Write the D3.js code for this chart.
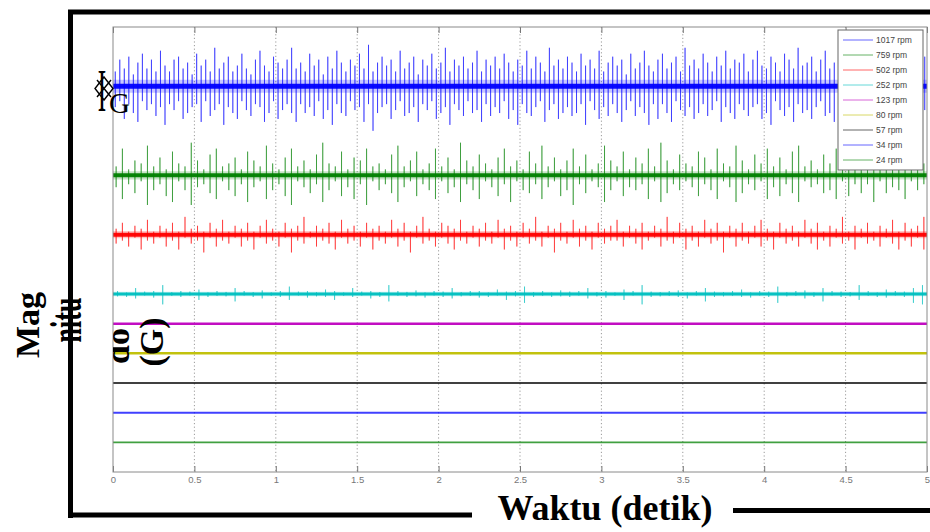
<!DOCTYPE html>
<html><head><meta charset="utf-8">
<script src="https://cdn.jsdelivr.net/npm/d3@7"></script>
<style>body{margin:0;background:#fff}svg{display:block}</style>
</head><body>
<svg id="c" width="930" height="532"></svg>
<script>
// ---------- data ----------
const seriesNames   = ["1017 rpm","759 rpm","502 rpm","252 rpm","123 rpm","80 rpm","57 rpm","34 rpm","24 rpm"];
const seriesColors  = ["#0000ff","#008000","#ff0000","#00bfbf","#bf00bf","#bfbf00","#000000","#0000ff","#008000"];
const seriesOffsets = [13,10,8,6,5,4,3,2,1];           // vertical stacking offset (G)
const seriesNoise   = [0.085,0.067,0.067,0.05,0.042,0.042,0.034,0.034,0.027]; // half-width of dense noise core (G)
const seriesHalo    = [0.22,0.14,0.12,0.08,0,0,0,0,0];  // half-width of the fuzzy small-spike band (G)
const xTicks      = [0,0.5,1,1.5,2,2.5,3,3.5,4,4.5,5];
const xTickLabels = ["0","0.5","1","1.5","2","2.5","3","3.5","4","4.5","5"];

// spike peak amplitudes (G), positive / negative excursions, evenly sampled over 0..5 s
const up1017 = [.5,.9,.6,1.0,.4,.8,1.1,.6,.9,.5,1.2,.7,.5,.9,1.0,.6,.8,.4,1.1,.7,
.9,.5,1.3,.6,.8,1.0,.5,.7,1.1,.6,.4,.9,1.2,.7,.5,1.0,.8,.6,.9,1.3,
.6,.8,.5,1.1,.7,.9,.4,1.0,.6,1.2,.8,.5,.9,.7,1.1,.6,1.4,.5,.8,1.0,
.7,.9,.5,1.2,.6,.8,1.0,.4,.9,.7,1.1,.6,.8,1.3,.5,.9,.7,1.0,.6,.8,
1.2,.5,.9,.7,1.0,.6,1.1,.8,.5,.9,.7,1.2,.6,1.0,.8,.5,1.3,.7,.9,.6,
1.0,.8,.5,1.1,.7,.9,.6,1.2,.5,.8,1.0,.7,.9,.4,1.1,.6,.8,1.2,.7,.5,
.9,1.1,.6,.8,1.0,.5,1.3,.7,.9,.6,1.1,.8,.5,1.0,.7,1.2,.6,.9,.8,1.1,
.5,.9,1.2,.7,.6,1.0,.8,.5,1.1,.9,.6,1.3,.7,.8,1.0,.5,.9,1.2,.6,.8,
1.0,.7,.5,1.1,.9,.6,1.2,.8,.7,1.0,.5,.9,1.1,.6,.8,1.3,.7,.9,.6,1.0];
const down1017 = [.7,.5,1.1,.6,.9,1.2,.5,.8,.6,1.0,.7,1.3,.6,.8,.5,1.1,.9,.7,.6,1.2,
.5,1.0,.8,.6,1.3,.7,.9,1.1,.5,.8,1.0,.6,.7,1.2,.9,.5,1.1,.8,.6,.9,
1.2,.6,.9,.7,1.0,.5,1.1,.8,1.3,.6,.9,1.0,.5,.8,.7,1.2,.6,1.5,.9,.7,
.6,1.1,.8,.5,1.0,.9,.7,1.2,.6,.8,.5,1.1,.9,.7,1.3,.6,.8,1.0,.5,.9,
.8,1.2,.6,1.0,.7,.9,.5,1.1,.8,1.3,.6,.9,1.0,.7,.5,1.2,.8,.6,1.1,.9,
.7,1.0,.9,.6,1.3,.5,.8,1.1,.7,1.0,.6,.9,1.2,.8,.5,1.0,.7,.9,1.3,.6,
1.1,.6,.9,1.2,.5,.8,1.0,.7,1.1,.9,.6,1.0,.8,.5,1.2,.7,.9,1.1,.6,.8,
1.0,.7,.6,1.1,.9,1.3,.5,.8,1.0,.7,1.2,.6,.9,.8,1.1,.7,.5,1.0,.9,1.2,
.6,.9,1.1,.7,.8,1.0,.5,1.2,.9,.6,1.0,.8,.7,1.1,.6,.9,1.0,.7,1.2,.8];

const up759 = [.3,.9,.2,.5,.4,1.0,.3,.6,.2,.8,.4,.3,1.1,.5,.2,.7,.9,.3,.4,.6,
.2,.8,.5,.3,1.0,.4,.2,.6,.9,.3,.5,.2,.7,1.1,.4,.3,.8,.2,.6,.5,
.9,.3,.4,.2,.7,1.0,.3,.5,.8,.2,.4,.9,.3,.6,.2,1.1,.5,.3,.7,.4,
.2,.6,.9,.3,.5,.2,.8,.4,1.0,.3,.6,.2,.5,.9,.3,.7,.2,.4,1.0,.5,
.3,.8,.2,.6,.4,.9,.3,1.1,.5,.2,.7,.4,.3,.8,.6,.2,.9,.4,.3,1.0,
.5,.2,.7,.4,.9,.3,.6,.2,.8,1.0,.3,.5,.2,.7,.4,.9,.3,.6,.2,.8,
.4,1.0,.3,.5,.2,.7,.9,.3,.6,.4];
const down759 = [.4,.8,.3,.6,.2,1.0,.5,.3,.7,.9,.2,.5,1.0,.4,.3,.6,.8,.2,.5,.7,
.3,.9,.4,.2,.8,.5,.3,.7,1.0,.2,.4,.6,.3,.9,.5,.2,.7,.4,.8,.3,
1.0,.2,.5,.3,.6,.9,.4,.2,.7,.3,.5,.8,.2,.6,.4,.9,.3,.5,.8,.2,
.4,.7,.3,.9,.2,.5,.6,.3,.8,.4,.2,.7,.5,1.0,.3,.6,.2,.4,.9,.5,
.2,.7,.4,.5,.3,.8,.2,.9,.6,.3,.5,.2,.4,.7,.3,.5,.8,.2,.4,.9,
.6,.3,.5,.2,.8,.4,.7,.3,.6,.9,.2,.4,.3,.6,.5,.8,.2,.7,.3,.6,
.3,.9,.2,.6,.4,.5,.8,.2,.5,.3];

const up502 = [.2,.4,.1,.3,.2,.5,.1,.3,.2,.4,.1,.6,.2,.3,.1,.4,.2,.5,.1,.3,
.2,.4,.1,.3,.5,.2,.1,.4,.2,.3,.6,.1,.3,.2,.4,.1,.5,.2,.3,.1,
.4,.2,.3,.1,.5,.2,.4,.1,.3,.6,.2,.1,.4,.3,.2,.5,.1,.3,.2,.4,
.1,.5,.2,.3,.1,.4,.2,.6,.1,.3,.2,.4,.1,.5,.2,.3,.1,.4,.2,.3,
.5,.1,.3,.2,.4,.1,.3,.2,.6,.1,.4,.2,.3,.1,.5,.2,.4,.1,.3,.2,
.4,.1,.3,.5,.2,.1,.4,.2,.3,.1,.5,.2,.4,.1,.3,.2,.6,.1,.3,.2,
.4,.1,.3,.2,.5,.1,.4,.2,.3,.6];
const down502 = [.3,.2,.4,.1,.5,.2,.3,.1,.4,.2,.5,.1,.3,.2,.6,.1,.4,.2,.3,.1,
.4,.2,.5,.1,.3,.2,.4,.1,.6,.2,.3,.1,.4,.2,.3,.5,.1,.3,.2,.4,
.1,.5,.2,.3,.1,.4,.2,.6,.1,.3,.2,.4,.1,.3,.5,.2,.3,.1,.4,.2,
.3,.1,.5,.2,.4,.1,.3,.2,.4,.1,.6,.2,.3,.1,.4,.2,.5,.1,.3,.2,
.2,.4,.1,.3,.5,.2,.1,.4,.2,.3,.1,.5,.2,.4,.1,.3,.2,.6,.1,.4,
.2,.3,.1,.4,.2,.5,.1,.3,.2,.4,.1,.3,.5,.2,.4,.1,.3,.2,.5,.1,
.3,.2,.4,.1,.3,.5,.2,.4,.1,.5];

const up252 = [.1,.05,.2,.08,.1,.3,.06,.1,.08,.15,.05,.1,.07,.2,.1,.06,.12,.05,.1,.25,
.08,.1,.06,.15,.1,.05,.2,.08,.1,.06,.3,.1,.07,.12,.05,.1,.08,.2,.06,.1,
.1,.05,.15,.08,.1,.25,.06,.1,.05,.12,.08,.1,.2,.06,.1,.05,.15,.1,.3,.08,
.06,.1,.12,.05,.1,.2,.08,.06,.1,.15,.05,.1,.08,.25,.06,.1,.12,.05,.2,.1,
.08,.06,.3,.1,.05,.15,.1,.08,.2,.3];
const down252 = [.08,.1,.15,.05,.12,.35,.06,.1,.05,.2,.1,.06,.08,.25,.05,.1,.15,.06,.1,.2,
.05,.12,.08,.1,.2,.06,.1,.05,.15,.1,.25,.06,.1,.08,.12,.05,.1,.15,.08,.06,
.12,.1,.05,.2,.08,.3,.1,.06,.1,.08,.1,.05,.15,.08,.12,.06,.2,.05,.35,.1,
.08,.06,.1,.15,.05,.25,.1,.08,.06,.1,.12,.05,.1,.3,.08,.06,.15,.1,.25,.05,
.1,.08,.2,.06,.1,.12,.05,.1,.3,.35];

const spikeUp   = [up1017, up759, up502, up252, [], [], [], [], []];
const spikeDown = [down1017, down759, down502, down252, [], [], [], [], []];

// ---------- layout ----------
const svg = d3.select("#c");
const X0 = 113, X1 = 927, Y0 = 27, Y1 = 472;
const x = d3.scaleLinear().domain([0,5]).range([X0,X1]);
const y = d3.scaleLinear().domain([0,15]).range([Y1,Y0]);
const defs = svg.append("defs");

svg.append("rect").attr("width",930).attr("height",532).attr("fill","#fff");

defs.append("clipPath").attr("id","plotclip")
  .append("rect").attr("x",X0).attr("y",Y0).attr("width",X1-X0).attr("height",Y1-Y0);

// grid
svg.append("g").selectAll("line").data(xTicks.slice(1,-1)).join("line")
  .attr("x1",d=>x(d)).attr("x2",d=>x(d)).attr("y1",Y0).attr("y2",Y1)
  .attr("stroke","#9a9a9a").attr("stroke-width",1).attr("stroke-dasharray","1.2,2.4");

// series
const plot = svg.append("g").attr("clip-path","url(#plotclip)");
const line = d3.line().x(p=>x(p[0])).y(p=>y(p[1]));
seriesNames.forEach((name,k)=>{
  const off = seriesOffsets[k], ups = spikeUp[k], downs = spikeDown[k], n = ups.length;
  const col = seriesColors[k];
  if(seriesHalo[k]>0){
    plot.append("path").attr("d",line([[0,off],[5,off]])).attr("fill","none")
      .attr("stroke",col).attr("stroke-width",y(0)-y(2*seriesHalo[k])).attr("stroke-opacity",0.22);
  }
  if(n){
    const pts = [[0,off]];
    ups.forEach((u,i)=>{
      const t = (i+0.5)*5/n;
      pts.push([t,off],[t,off+u],[t,off-downs[i]],[t,off]);
    });
    pts.push([5,off]);
    plot.append("path").attr("d",line(pts)).attr("fill","none")
      .attr("stroke",col).attr("stroke-width",1).attr("stroke-opacity",0.5);
  }
  plot.append("path").attr("d",line([[0,off],[5,off]])).attr("fill","none")
    .attr("stroke",col).attr("stroke-width",y(0)-y(2*seriesNoise[k]))
    .attr("stroke-opacity",k>=6?0.75:0.95);
});

// axes box
const ax = d3.axisBottom(x).tickValues(xTicks).tickFormat((d,i)=>xTickLabels[i]).tickSizeInner(-6).tickSizeOuter(0).tickPadding(4);
const gx = svg.append("g").attr("transform",`translate(0,${Y1})`).call(ax);
gx.select(".domain").remove();
gx.selectAll(".tick line").attr("stroke","#777");
gx.selectAll(".tick text").attr("fill","#777").style("font-family","Arial, 'Liberation Sans', sans-serif").style("font-size","9.5px");
const axTop = d3.axisTop(x).tickValues(xTicks).tickFormat("").tickSizeInner(-6).tickSizeOuter(0);
const gt = svg.append("g").attr("transform",`translate(0,${Y0})`).call(axTop);
gt.select(".domain").remove();
gt.selectAll(".tick line").attr("stroke","#777");
svg.append("rect").attr("x",X0).attr("y",Y0).attr("width",X1-X0).attr("height",Y1-Y0)
  .attr("fill","none").attr("stroke","#8a8a8a").attr("stroke-width",1);

// legend
const lg = svg.append("g").attr("transform","translate(838,30)");
lg.append("rect").attr("width",85).attr("height",140).attr("fill","#fff").attr("stroke","#666").attr("stroke-width",1);
seriesNames.forEach((name,k)=>{
  const yy = 10 + k*15;
  lg.append("line").attr("x1",5).attr("x2",35).attr("y1",yy).attr("y2",yy)
    .attr("stroke",seriesColors[k]).attr("stroke-width",1).attr("stroke-opacity",0.6);
  lg.append("text").attr("x",38).attr("y",yy+3).text(name)
    .attr("fill","#444").style("font-family","Arial, 'Liberation Sans', sans-serif").style("font-size","8.5px");
});

// outer frame
const frame = svg.append("g").attr("stroke","#000").attr("stroke-width",5);
frame.append("line").attr("x1",68).attr("x2",930).attr("y1",12).attr("y2",12);
frame.append("line").attr("x1",70.5).attr("x2",70.5).attr("y1",10).attr("y2",518);
frame.append("line").attr("x1",68).attr("x2",472).attr("y1",515).attr("y2",515);
frame.append("line").attr("x1",733).attr("x2",930).attr("y1",510.5).attr("y2",510.5);

// labels
const serif = "'Times New Roman', 'Liberation Serif', 'DejaVu Serif', serif";
svg.append("text").attr("x",605).attr("y",520).attr("text-anchor","middle")
  .style("font-family",serif).style("font-weight","bold").style("font-size","36px").text("Waktu (detik)");
svg.append("text").attr("transform","translate(39,325) rotate(-90)").attr("text-anchor","middle")
  .style("font-family",serif).style("font-weight","bold").style("font-size","34px").text("Mag");
svg.append("text").attr("transform","translate(81,320) rotate(-90) scale(1,1.7)").attr("text-anchor","middle")
  .style("font-family",serif).style("font-weight","bold").style("font-size","26px").text("nitu");
defs.append("clipPath").attr("id","doclip").append("rect").attr("x",X0).attr("y",0).attr("width",200).attr("height",532);
svg.append("g").attr("clip-path","url(#doclip)")
  .append("text").attr("transform","translate(129,346) rotate(-90)").attr("text-anchor","middle")
  .style("font-family",serif).style("font-weight","bold").style("font-size","34px").text("do");
svg.append("text").attr("transform","translate(163,342) rotate(-90)").attr("text-anchor","middle")
  .style("font-family",serif).style("font-weight","bold").style("font-size","34px").text("(G)");

// "FG" symbol fragment top-left
svg.append("text").attr("transform","translate(102,111) scale(0.9,2.2)").attr("text-anchor","middle")
  .style("font-family",serif).style("font-size","28px").text("I");
svg.append("path").attr("d","M104,77 L113,88.5 L104,100 L95,88.5 Z M97,80 L111,97 M111,80 L97,97")
  .attr("fill","none").attr("stroke","#000").attr("stroke-width",1.4);
svg.append("text").attr("x",109).attr("y",113)
  .style("font-family",serif).style("font-size","29px").text("G");
</script>
</body></html>
